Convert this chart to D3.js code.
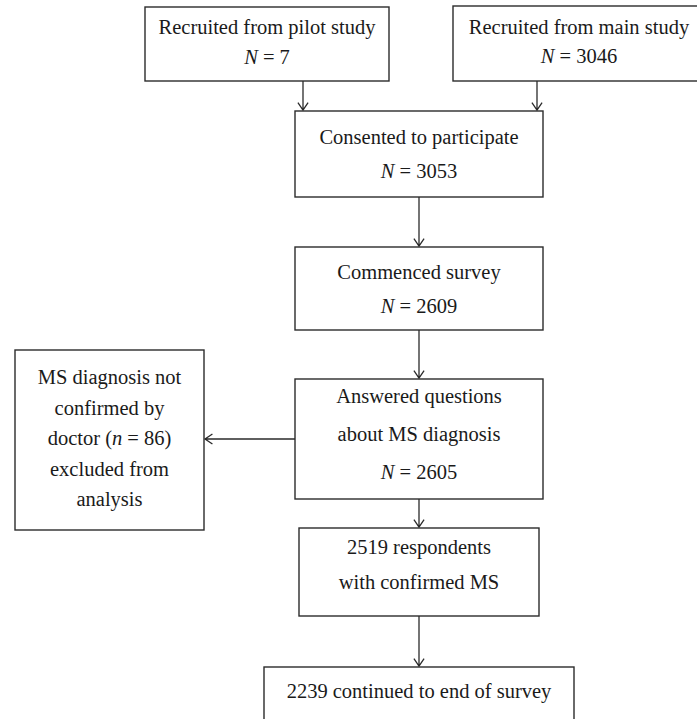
<!DOCTYPE html>
<html>
<head>
    <style>
        body { margin: 0; background: #fff; }
        .box rect { fill: #fff; stroke: #2b2b2b; stroke-width: 1.4; }
        .box text { font: 20.5px "Liberation Serif", "DejaVu Serif", serif; fill: #1a1a1a; text-anchor: middle; }
        .link { stroke: #2b2b2b; stroke-width: 1.3; fill: none; }
    </style>
    <script src="https://d3js.org/d3.v7.min.js"></script>
</head>
<body>
    <svg width="697" height="719"></svg>
    <script>
        // box texts (*x* = italic)
        var boxIds = ["pilot", "main", "consent", "commenced", "answered", "excluded", "confirmed", "end"];
        var boxLines = [
            ["Recruited from pilot study", "*N* = 7"],
            ["Recruited from main study", "*N* = 3046"],
            ["Consented to participate", "*N* = 3053"],
            ["Commenced survey", "*N* = 2609"],
            ["Answered questions", "about MS diagnosis", "*N* = 2605"],
            ["MS diagnosis not", "confirmed by", "doctor (*n* = 86)", "excluded from", "analysis"],
            ["2519 respondents", "with confirmed MS"],
            ["2239 continued to end of survey"]
        ];
        var links = [
            ["pilot", "consent"], ["main", "consent"], ["consent", "commenced"],
            ["commenced", "answered"], ["answered", "excluded"],
            ["answered", "confirmed"], ["confirmed", "end"]
        ];

        // layout: x, y, w, h, first baseline, line gap
        var layout = {
            pilot:     { x: 145, y: 7,   w: 244, h: 74,  base: 34,  gap: 30 },
            main:      { x: 453, y: 6,   w: 252, h: 75,  base: 34,  gap: 29 },
            consent:   { x: 295, y: 111, w: 248, h: 86,  base: 144, gap: 34 },
            commenced: { x: 295, y: 247, w: 248, h: 83,  base: 279, gap: 34 },
            answered:  { x: 295, y: 379, w: 248, h: 120, base: 403, gap: 38 },
            excluded:  { x: 15,  y: 350, w: 189, h: 180, base: 384, gap: 30.5 },
            confirmed: { x: 299, y: 528, w: 240, h: 88,  base: 554, gap: 35 },
            end:       { x: 264, y: 667, w: 310, h: 80,  base: 698, gap: 30 }
        };
        // where arrows leave the top boxes
        var arrowX = { pilot: 303, main: 537 };

        var svg = d3.select("svg");

        var boxes = boxIds.map(function(id, i) {
            return Object.assign({ id: id, lines: boxLines[i] }, layout[id]);
        });
        var byId = {};
        boxes.forEach(function(b) { byId[b.id] = b; });

        function arrow(x1, y1, x2, y2) {
            var ang = Math.atan2(y2 - y1, x2 - x1), L = 9, a = 0.6;
            var p = d3.path();
            p.moveTo(x1, y1); p.lineTo(x2, y2);
            p.moveTo(x2 - L * Math.cos(ang - a), y2 - L * Math.sin(ang - a));
            p.lineTo(x2, y2);
            p.lineTo(x2 - L * Math.cos(ang + a), y2 - L * Math.sin(ang + a));
            return p.toString();
        }

        svg.selectAll(".link")
           .data(links)
           .enter().append("path")
           .attr("class", "link")
           .attr("d", function(l) {
                var s = byId[l[0]], t = byId[l[1]];
                if (t.id === "excluded") {
                    var y = s.y + s.h / 2;
                    return arrow(s.x, y, t.x + t.w + 1, y);
                }
                var x = arrowX[s.id] !== undefined ? arrowX[s.id] : s.x + s.w / 2;
                return arrow(x, s.y + s.h, x, t.y - 1);
           });

        var g = svg.selectAll(".box")
                   .data(boxes)
                   .enter().append("g")
                   .attr("class", "box");

        g.append("rect")
         .attr("x", function(d) { return d.x; })
         .attr("y", function(d) { return d.y; })
         .attr("width", function(d) { return d.w; })
         .attr("height", function(d) { return d.h; });

        g.each(function(d) {
            var sel = d3.select(this);
            d.lines.forEach(function(line, i) {
                var t = sel.append("text")
                           .attr("x", d.x + d.w / 2)
                           .attr("y", d.base + i * d.gap);
                line.split("*").forEach(function(part, j) {
                    if (!part) return;
                    t.append("tspan")
                     .style("font-style", j % 2 ? "italic" : "normal")
                     .text(part);
                });
            });
        });
    </script>
</body>
</html>
